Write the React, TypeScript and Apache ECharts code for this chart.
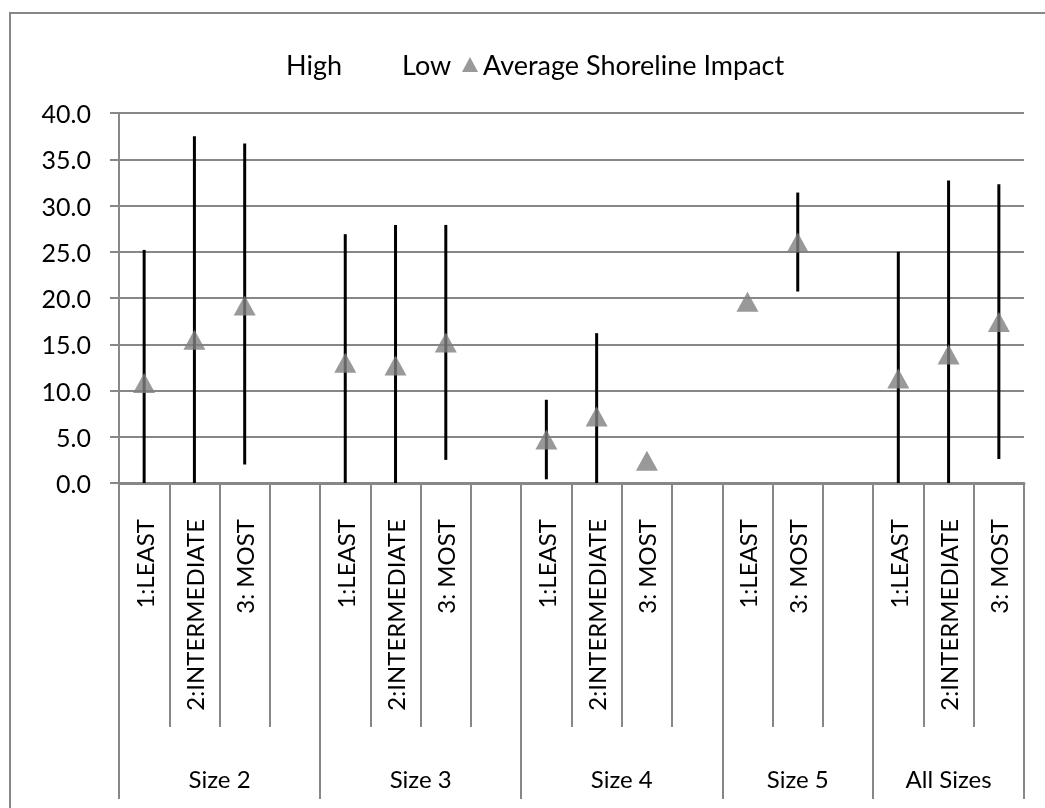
import React, { useEffect, useRef } from "react";
import * as echarts from "echarts";

const categories = [
  "1:LEAST", "2:INTERMEDIATE", "3: MOST", "",
  "1:LEAST", "2:INTERMEDIATE", "3: MOST", "",
  "1:LEAST", "2:INTERMEDIATE", "3: MOST", "",
  "1:LEAST", "3: MOST", "",
  "1:LEAST", "2:INTERMEDIATE", "3: MOST",
];
const groupNames = ["Size 2", "Size 3", "Size 4", "Size 5", "All Sizes"];
const groupSizes = [4, 4, 4, 3, 3];
const highValues = [25.2, 37.5, 36.7, null, 26.9, 27.9, 27.9, null, 9.0, 16.2, null, null, null, 31.4, null, 25.0, 32.7, 32.3];
const lowValues = [0, 0, 2.0, null, 0, 0, 2.5, null, 0.4, 0, null, null, null, 20.7, null, 0, 0, 2.6];
const avgValues = [10.8, 15.5, 19.2, null, 13.0, 12.7, 15.2, null, 4.7, 7.2, 2.4, null, 19.6, 26.0, null, 11.3, 13.9, 17.4];
const yTicks = { min: 0, max: 40, interval: 5 };

const FONT = "Lato, 'Liberation Sans', sans-serif";
const GRAY = "#878787";

export default function App() {
  const ref = useRef<HTMLDivElement>(null);
  useEffect(() => {
    if (!ref.current) return;
    const chart = echarts.init(ref.current, null, { renderer: "svg" });

    const boundaries: number[] = [0];
    const centers: number[] = [];
    let acc = 0;
    groupSizes.forEach((s) => {
      centers.push(acc + s / 2);
      acc += s;
      boundaries.push(acc);
    });

    const rangeData = categories
      .map((_, i) => [i, lowValues[i], highValues[i]])
      .filter((d) => d[1] != null && d[2] != null);

    chart.setOption({
      animation: false,
      textStyle: { fontFamily: FONT },
      graphic: [
        {
          type: "rect",
          shape: { x: 10, y: 13, width: 1100, height: 900 },
          style: { fill: "none", stroke: GRAY, lineWidth: 2 },
          silent: true,
        },
      ],
      legend: [
        {
          left: 236,
          top: 46,
          itemWidth: 40,
          itemHeight: 14,
          itemGap: 15,
          textStyle: { fontFamily: FONT, fontSize: 27, color: "#000" },
          data: [
            { name: "High", icon: "rect", itemStyle: { color: "rgba(0,0,0,0)", opacity: 0 } },
            { name: "Low", icon: "rect", itemStyle: { color: "rgba(0,0,0,0)", opacity: 0 } },
          ],
          selectedMode: false,
        },
        {
          left: 457,
          top: 46,
          itemWidth: 16,
          itemHeight: 15,
          textStyle: { fontFamily: FONT, fontSize: 27, color: "#000" },
          data: [{ name: "Average Shoreline Impact", icon: "triangle" }],
          selectedMode: false,
        },
      ],
      grid: { left: 119, top: 113, width: 905, height: 370, containLabel: false },
      xAxis: [
        {
          type: "category",
          data: categories,
          position: "bottom",
          boundaryGap: true,
          axisLine: { show: true, lineStyle: { color: GRAY, width: 3 } },
          axisTick: { show: true, interval: 0, length: 244, lineStyle: { color: GRAY, width: 2 } },
          axisLabel: {
            interval: 0,
            rotate: 90,
            margin: 36,
            fontFamily: FONT,
            fontSize: 24,
            color: "#000",
          },
          splitLine: { show: false },
        },
        {
          type: "value",
          position: "bottom",
          offset: 0,
          min: 0,
          max: categories.length,
          axisLine: { show: false },
          splitLine: { show: false },
          axisTick: {
            show: true,
            length: 316,
            customValues: boundaries,
            lineStyle: { color: GRAY, width: 2 },
          },
          axisLabel: {
            show: true,
            customValues: centers,
            margin: 283,
            fontFamily: FONT,
            fontSize: 24,
            color: "#000",
            formatter: (v: number) => {
              const i = centers.findIndex((c) => Math.abs(c - v) < 1e-6);
              return i >= 0 ? groupNames[i] : "";
            },
          },
        },
      ],
      yAxis: {
        type: "value",
        min: yTicks.min,
        max: yTicks.max,
        interval: yTicks.interval,
        axisLine: { show: true, lineStyle: { color: GRAY, width: 2 } },
        axisTick: { show: true, inside: false, length: 9, lineStyle: { color: GRAY, width: 2 } },
        axisLabel: {
          margin: 28,
          fontFamily: FONT,
          fontSize: 25,
          color: "#000",
          formatter: (v: number) => v.toFixed(1),
        },
        splitLine: { show: true, lineStyle: { color: GRAY, width: 2 } },
      },
      series: [
        {
          name: "High",
          type: "line",
          data: highValues,
          symbol: "none",
          lineStyle: { opacity: 0 },
          silent: true,
        },
        {
          name: "Low",
          type: "line",
          data: lowValues,
          symbol: "none",
          lineStyle: { opacity: 0 },
          silent: true,
        },
        {
          name: "HighLow",
          type: "custom",
          z: 3,
          data: rangeData,
          encode: { x: 0, y: [1, 2] },
          renderItem: (params: any, api: any) => {
            const x = api.value(0);
            const p1 = api.coord([x, api.value(1)]);
            const p2 = api.coord([x, api.value(2)]);
            return {
              type: "line",
              shape: { x1: p1[0], y1: p1[1], x2: p2[0], y2: p2[1] },
              style: { stroke: "#000", lineWidth: 3 },
            };
          },
        },
        {
          name: "Average Shoreline Impact",
          type: "scatter",
          z: 5,
          data: avgValues,
          symbol: "triangle",
          symbolSize: [22, 20],
          itemStyle: { color: "#808080" },
        },
      ],
    });
    return () => chart.dispose();
  }, []);
  return (
    <div
      ref={ref}
      style={{ position: "fixed", left: 0, top: 0, width: 1045, height: 808 }}
    />
  );
}
